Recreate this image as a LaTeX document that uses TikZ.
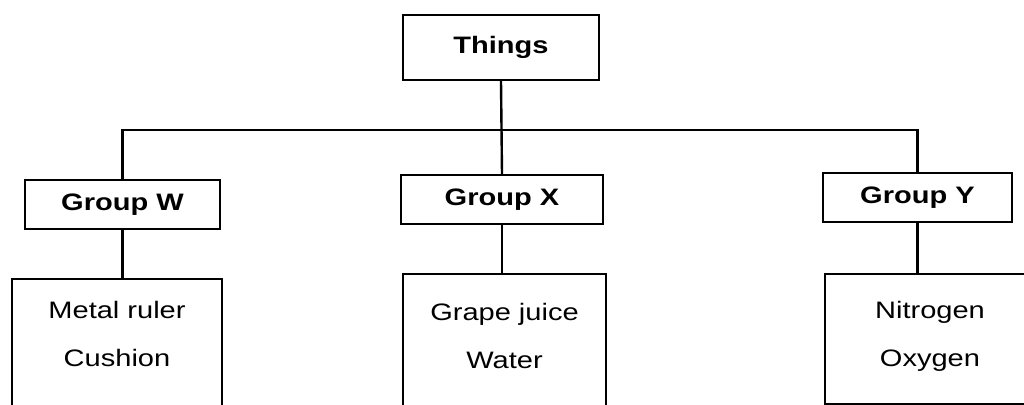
\documentclass[tikz,border=0pt]{standalone}
\usepackage{fontspec}
\setmainfont[FakeStretch=1.22]{Liberation Sans}
\usetikzlibrary{positioning}
\begin{document}
\begin{tikzpicture}[x=0.5pt,y=-0.5pt,
        box/.style={draw,line width=1.2pt,inner sep=0pt,
                font=\fontsize{11.9}{24}\selectfont\bfseries},
        itembox/.style={draw,line width=1.2pt,inner sep=0pt,anchor=north},
        itemtext/.style={align=center,inner sep=0pt,
                font=\fontsize{11.9}{24}\selectfont},
        link/.style={line width=1.2pt}]
        \useasboundingbox (0,0) rectangle (1024,405);
        \clip (0,0) rectangle (1024,405);
        % headings
        \node[box,minimum width=98pt,minimum height=32.5pt] (things) at (501,47.5) {Things};
        \node[box,minimum width=97.5pt,minimum height=24.5pt] (groupW) at (122.5,204.5) {Group W};
        \node[box,minimum width=101pt,minimum height=24.5pt] (groupX) at (502,199.5) {Group X};
        \node[box,minimum width=94.5pt,minimum height=24.5pt] (groupY) at (917.5,197.5) {Group Y};
        % member boxes
        \node[itembox,minimum width=105pt,minimum height=100pt] (itemsW) at (117,278) {};
        \node[itembox,minimum width=101.5pt,minimum height=100pt] (itemsX) at (504.5,273) {};
        \node[itembox,minimum width=107.5pt,minimum height=65pt] (itemsY) at (932.5,273) {};
        \node[itemtext] (listW) at (itemsW.north |- 0,334) {Metal ruler\\Cushion};
        \node[itemtext] (listX) at (itemsX.north |- 0,336) {Grape juice\\Water};
        \node[itemtext] (listY) at (930,336) {Nitrogen\\Oxygen};
        % connectors
        \coordinate (bus) at (501,130);
        \draw[link] (things.south) -- (groupX.north);
        \draw[link] (groupW.north) |- (groupY.north |- bus) -- (groupY.north);
        \draw[link] (groupW.south) -- (groupW.south |- itemsW.north);
        \draw[link] (groupX.south) -- (groupX.south |- itemsX.north);
        \draw[link] (groupY.south) -- (groupY.south |- itemsY.north);
\end{tikzpicture}
\end{document}
